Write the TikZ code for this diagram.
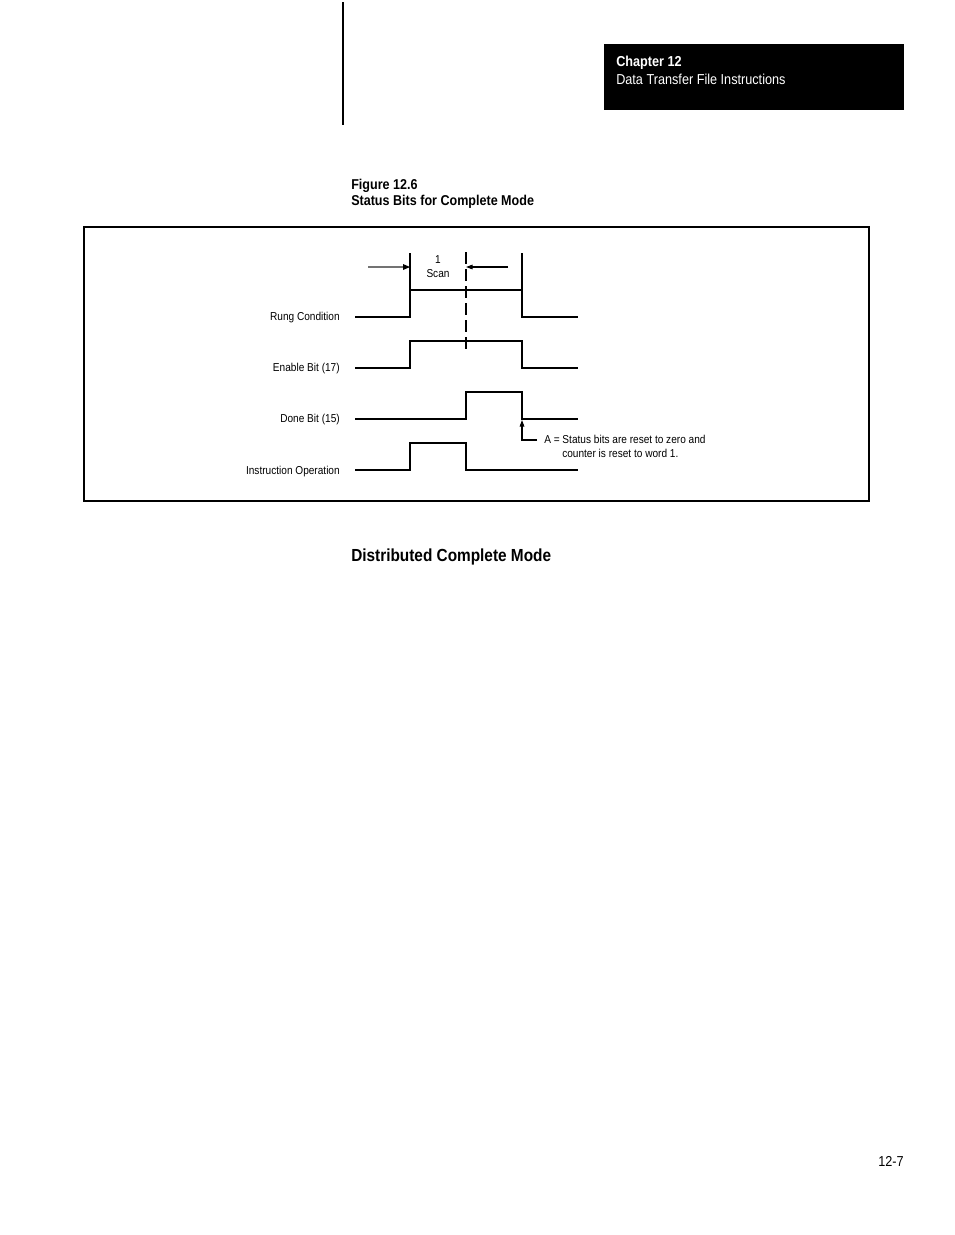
\documentclass[tikz,border=0pt]{standalone}
\usepackage{fontspec}
\setmainfont[FakeStretch=0.88]{Liberation Sans}
\usetikzlibrary{arrows.meta}
\begin{document}
\begin{tikzpicture}[x=0.75pt,y=-0.75pt,
  wave/.style={line width=0.8pt},
  lbl/.style={font=\fontsize{8.6}{10}\selectfont, anchor=base east, inner sep=0},
  small/.style={font=\fontsize{8.6}{10}\selectfont, inner sep=0},
  hdr/.style={font=\fontsize{10.8}{13}\selectfont, anchor=base west, inner sep=0, text=white},
  figcap/.style={font=\fontsize{10.7}{13}\selectfont\bfseries, anchor=base west, inner sep=0},
  arrtip/.style={-{Triangle[length=5pt,width=3.5pt]}}]
\useasboundingbox (0,0) rectangle (954,1235);
\fill[white] (0,0) rectangle (954,1235);
% header
\draw[line width=1.5pt] (343,2) -- (343,125);
\fill[black] (604,44) rectangle (904,110);
\node[hdr, font=\fontsize{10.8}{13}\selectfont\bfseries] (ch) at (616,66) {Chapter 12};
\node[hdr] (dt) at (616,84) {Data Transfer File Instructions};
% caption
\node[figcap] (fig) at (351,189) {Figure 12.6};
\node[figcap] (tit) at (351,205) {Status Bits for Complete Mode};
% frame
\draw[line width=1.1pt] (84,227) rectangle (869,501);
% labels
\node[lbl] (l1) at (340,320) {Rung Condition};
\node[lbl] (l2) at (340,371) {Enable Bit (17)};
\node[lbl] (l3) at (340,422) {Done Bit (15)};
\node[lbl] (l4) at (340,474) {Instruction Operation};
% waveforms
\draw[wave] (355,317) -- (410,317) -- (410,253) (410,290) -- (522,290) (522,253) -- (522,317) -- (578,317);
\draw[wave] (355,368) -- (410,368) -- (410,341) -- (522,341) -- (522,368) -- (578,368);
\draw[wave] (355,419) -- (466,419) -- (466,392) -- (522,392) -- (522,419) -- (578,419);
\draw[wave] (355,470) -- (410,470) -- (410,443) -- (466,443) -- (466,470) -- (578,470);
% dashed scan marker
\draw[wave, dash pattern=on 9pt off 3.8pt] (466,252) -- (466,354);
% scan arrows
\coordinate (a1s) at (368,267);
\coordinate (a1e) at (410,267);
\coordinate (a2s) at (508,267);
\coordinate (a2e) at (466,267);
\draw[wave, draw=black!55] (a1s) -- ([xshift=-4pt]a1e);
\fill (a1e) -- ++(-7,-3) -- ++(0,6) -- cycle;
\draw[wave, arrtip] (a2s) -- (a2e);
\node[small] (one) at (438,260) {1};
\node[small] (scan) at (438,274) {Scan};
% note A
\coordinate (ap) at (522,420);
\coordinate (ac) at (522,440);
\coordinate (ae) at (537,440);
\draw[wave, arrtip] (ae) -- (ac) -- (ap);
\node[small, anchor=base west] (n1) at (544,443) {A = Status bits are reset to zero and};
\node[small, anchor=base west] (n2) at (562,457) {counter is reset to word 1.};
% section heading
\node[figcap, font=\fontsize{13.1}{16}\selectfont\bfseries] (sec) at (351,561) {Distributed Complete Mode};
% page number
\node[small, font=\fontsize{10.8}{13}\selectfont, anchor=base east] (pg) at (904,1166) {12-7};
\end{tikzpicture}
\end{document}
